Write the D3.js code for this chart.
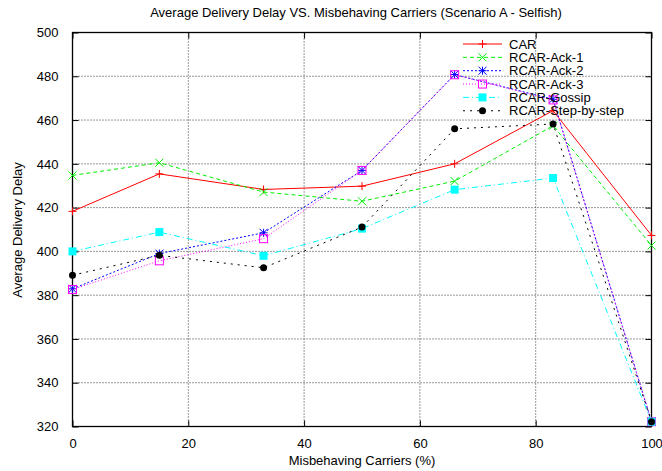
<!DOCTYPE html>
<html>
<head>
<meta charset="utf-8">
<script src="https://cdn.jsdelivr.net/npm/d3@7"></script>
<style>
  html, body { margin: 0; padding: 0; background: #fff; }
  svg { display: block; }
  text { font-family: "Liberation Sans", Arial, Helvetica, sans-serif; fill: #000; }
</style>
</head>
<body>
<div id="chart"></div>
<script>
// Misbehaving carriers (%) on the x axis
const carriers = [0, 15, 33, 50, 66, 83, 100];

// Average delivery delay for each protocol
const car        = [418.3, 435.4, 428.3, 429.8, 440.0, 464.3, 407.3];
const rcarAck1   = [434.7, 440.5, 427.1, 422.9, 432.1, 457.4, 402.7];
const rcarAck2   = [382.9, 399.0, 408.5, 437.0, 480.8, 469.5, 322.2];
const rcarAck3   = [382.6, 395.7, 405.8, 437.0, 480.7, 469.2, 322.2];
const rcarGossip = [400.0, 408.8, 398.0, 410.4, 428.2, 433.5, 322.2];
const rcarStep   = [389.1, 398.2, 392.5, 411.1, 456.0, 458.2, 322.2];

const seriesNames = ["CAR", "RCAR-Ack-1", "RCAR-Ack-2", "RCAR-Ack-3", "RCAR-Gossip", "RCAR-Step-by-step"];
const seriesValues = [car, rcarAck1, rcarAck2, rcarAck3, rcarGossip, rcarStep];

const xTicks = [0, 20, 40, 60, 80, 100];
const yTicks = [320, 340, 360, 380, 400, 420, 440, 460, 480, 500];

const titleText = "Average Delivery Delay VS. Misbehaving Carriers (Scenario A - Selfish)";
const xLabel = "Misbehaving Carriers (%)";
const yLabel = "Average Delivery Delay";

// Styling per series: colour, dash pattern, marker type
const styles = [
  { color: "#ff0000", dash: null,      marker: "plus" },
  { color: "#00f000", dash: "4,3",     marker: "cross" },
  { color: "#0000ff", dash: "2,2",     marker: "star" },
  { color: "#ff00ff", dash: "1,2",     marker: "openSquare" },
  { color: "#00ffff", dash: "6,3,1,3", marker: "filledSquare" },
  { color: "#000000", dash: "2,5",     marker: "circle" }
];

const W = 662, H = 471;
const margin = { left: 72.5, right: W - 651.5, top: 32.5, bottom: H - 426.5 };
const fontSize = "13px";

const svg = d3.select("#chart").append("svg")
  .attr("width", W).attr("height", H);

const x = d3.scaleLinear().domain([0, 100]).range([margin.left, W - margin.right]);
const y = d3.scaleLinear().domain([320, 500]).range([H - margin.bottom, margin.top]);

const x0 = x(0), x1 = x(100), y0 = y(320), y1 = y(500);

// Grid lines (dotted), skipping the border positions
const grid = svg.append("g");
xTicks.filter(t => t > 0 && t < 100).forEach(t => {
  grid.append("line").attr("x1", x(t)).attr("x2", x(t)).attr("y1", y0).attr("y2", y1)
    .attr("stroke", "#333").attr("stroke-width", 1).attr("stroke-dasharray", "1,2");
});
yTicks.filter(t => t > 320 && t < 500).forEach(t => {
  grid.append("line").attr("x1", x0).attr("x2", x1).attr("y1", y(t)).attr("y2", y(t))
    .attr("stroke", "#333").attr("stroke-width", 1).attr("stroke-dasharray", "1,2");
});

// Axes: ticks point inward, mirrored on top and right
const tickLen = 6;
const xAxisBottom = d3.axisBottom(x).tickValues(xTicks).tickSize(-tickLen).tickPadding(tickLen + 6).tickFormat(d3.format("d"));
const xAxisTop = d3.axisTop(x).tickValues(xTicks).tickSize(-tickLen).tickFormat("");
const yAxisLeft = d3.axisLeft(y).tickValues(yTicks).tickSize(-tickLen).tickPadding(tickLen + 8).tickFormat(d3.format("d"));
const yAxisRight = d3.axisRight(y).tickValues(yTicks).tickSize(-tickLen).tickFormat("");

function styleAxis(g) {
  g.select(".domain").remove();
  g.selectAll(".tick line").attr("stroke", "#000");
  g.selectAll(".tick text").style("font-family", "'Liberation Sans', Arial, sans-serif")
    .style("font-size", fontSize).attr("fill", "#000");
}
svg.append("g").attr("transform", `translate(0,${y0})`).call(xAxisBottom).call(styleAxis);
svg.append("g").attr("transform", `translate(0,${y1})`).call(xAxisTop).call(styleAxis);
svg.append("g").attr("transform", `translate(${x0},0)`).call(yAxisLeft).call(styleAxis);
svg.append("g").attr("transform", `translate(${x1},0)`).call(yAxisRight).call(styleAxis);

// Border
svg.append("rect").attr("x", x0).attr("y", y1).attr("width", x1 - x0).attr("height", y0 - y1)
  .attr("fill", "none").attr("stroke", "#000").attr("stroke-width", 1.3);

// Marker drawing
function drawMarker(g, type, cx, cy, color) {
  const s = 4;
  if (type === "plus") {
    g.append("path").attr("d", `M${cx - s},${cy}H${cx + s}M${cx},${cy - s}V${cy + s}`)
      .attr("stroke", color).attr("stroke-width", 1).attr("fill", "none");
  } else if (type === "cross") {
    g.append("path").attr("d", `M${cx - s},${cy - s}L${cx + s},${cy + s}M${cx - s},${cy + s}L${cx + s},${cy - s}`)
      .attr("stroke", color).attr("stroke-width", 1).attr("fill", "none");
  } else if (type === "star") {
    g.append("path").attr("d", `M${cx - s},${cy}H${cx + s}M${cx},${cy - s}V${cy + s}M${cx - s},${cy - s}L${cx + s},${cy + s}M${cx - s},${cy + s}L${cx + s},${cy - s}`)
      .attr("stroke", color).attr("stroke-width", 1).attr("fill", "none");
  } else if (type === "openSquare") {
    g.append("rect").attr("x", cx - s).attr("y", cy - s).attr("width", 2 * s).attr("height", 2 * s)
      .attr("stroke", color).attr("stroke-width", 1).attr("fill", "none");
  } else if (type === "filledSquare") {
    g.append("rect").attr("x", cx - s).attr("y", cy - s).attr("width", 2 * s).attr("height", 2 * s)
      .attr("fill", color);
  } else if (type === "circle") {
    g.append("circle").attr("cx", cx).attr("cy", cy).attr("r", 3.5).attr("fill", color);
  }
}

// Series lines and markers
const line = d3.line().x(d => x(d[0])).y(d => y(d[1]));
seriesValues.forEach((vals, i) => {
  const st = styles[i];
  const pts = carriers.map((c, j) => [c, vals[j]]);
  const g = svg.append("g");
  g.append("path").datum(pts).attr("d", line)
    .attr("fill", "none").attr("stroke", st.color).attr("stroke-width", 1)
    .attr("stroke-dasharray", st.dash);
  pts.forEach(p => drawMarker(g, st.marker, x(p[0]), y(p[1]), st.color));
});

// Legend: sample on the left, name on the right
const legend = svg.append("g");
const legX1 = 463, legX2 = 502, legTextX = 509, legY0 = 44, legStep = 13.35;
seriesNames.forEach((name, i) => {
  const st = styles[i];
  const ly = legY0 + i * legStep;
  legend.append("line").attr("x1", legX1).attr("x2", legX2).attr("y1", ly).attr("y2", ly)
    .attr("stroke", st.color).attr("stroke-width", 1).attr("stroke-dasharray", st.dash);
  drawMarker(legend, st.marker, (legX1 + legX2) / 2, ly, st.color);
  legend.append("text").attr("x", legTextX).attr("y", ly).attr("dy", "0.35em")
    .style("font-size", fontSize).text(name);
});

// Title and axis labels
svg.append("text").attr("x", 356).attr("y", 17).attr("text-anchor", "middle")
  .style("font-size", fontSize).text(titleText);
svg.append("text").attr("x", 362).attr("y", 465).attr("text-anchor", "middle")
  .style("font-size", fontSize).text(xLabel);
svg.append("text").attr("transform", `translate(22,${230}) rotate(-90)`).attr("text-anchor", "middle")
  .style("font-size", fontSize).text(yLabel);
</script>
</body>
</html>
